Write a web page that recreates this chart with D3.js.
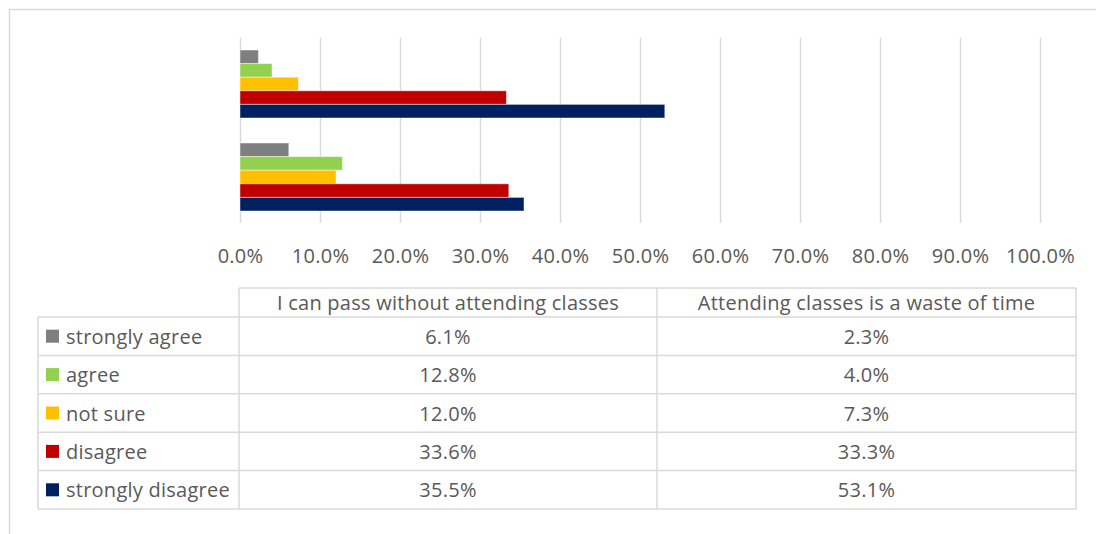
<!DOCTYPE html>
<html>
<head>
<meta charset="utf-8">
<script src="https://cdn.jsdelivr.net/npm/d3@7"></script>
<style>
  html, body { margin: 0; padding: 0; background: #ffffff; }
  svg { display: block; }
  text { font-family: "Open Sans", "Noto Sans", sans-serif; fill: #595959; letter-spacing: 0.25px; }
</style>
</head>
<body>
<svg id="chart" width="1096" height="534"></svg>
<script>
// Survey statements (table column order) and response levels
const statements = ["I can pass without attending classes", "Attending classes is a waste of time"];
const levels = ["strongly agree", "agree", "not sure", "disagree", "strongly disagree"];
const levelColors = ["#7f7f7f", "#92d050", "#ffc000", "#c00000", "#002060"];

// Share of respondents per level, one array per statement
const passWithoutAttending = [0.061, 0.128, 0.120, 0.336, 0.355];
const wasteOfTime = [0.023, 0.040, 0.073, 0.333, 0.531];

// Axis ticks
const xTicks = [0, 0.1, 0.2, 0.3, 0.4, 0.5, 0.6, 0.7, 0.8, 0.9, 1.0];

const seriesByStatement = {
  [statements[0]]: passWithoutAttending,
  [statements[1]]: wasteOfTime
};

const svg = d3.select("#chart");
const gridColor = "#d9d9d9";
const fontSize = "20px";

// Outer frame (open on right / bottom, running past the page edges)
svg.append("rect")
  .attr("x", 9.5).attr("y", 9.5)
  .attr("width", 1200).attr("height", 600)
  .attr("fill", "none")
  .attr("stroke", gridColor)
  .attr("stroke-width", 1.5);

const plot = { left: 240, right: 1040, top: 38, bottom: 223 };

const x = d3.scaleLinear().domain([0, 1]).range([plot.left, plot.right]);

// Categories run bottom-to-top in table order, so the last statement sits on top
const y = d3.scaleBand()
  .domain(statements.slice().reverse())
  .range([plot.top, plot.bottom])
  .paddingInner(0.269)
  .paddingOuter(0.129);

const yInner = d3.scaleBand()
  .domain(levels)
  .range([0, y.bandwidth()]);

// Vertical gridlines
const grid = svg.append("g")
  .attr("transform", `translate(0,${plot.bottom})`)
  .call(d3.axisBottom(x).tickValues(xTicks).tickSize(-(plot.bottom - plot.top)).tickFormat(""));
grid.select(".domain").remove();
grid.selectAll(".tick line").attr("stroke", gridColor).attr("stroke-width", 1.5);

// Bars
const groups = svg.append("g").selectAll("g")
  .data(statements)
  .join("g")
  .attr("transform", d => `translate(0,${y(d)})`);

groups.selectAll("rect")
  .data(d => seriesByStatement[d].map((v, i) => ({ level: levels[i], value: v, color: levelColors[i] })))
  .join("rect")
  .attr("x", x(0))
  .attr("y", d => yInner(d.level))
  .attr("width", d => x(d.value) - x(0))
  .attr("height", yInner.bandwidth())
  .attr("fill", d => d.color)
  .attr("stroke", "#ffffff")
  .attr("stroke-opacity", 0.45)
  .attr("stroke-width", 1);

// Value axis labels
const axis = svg.append("g")
  .attr("transform", `translate(0,${plot.bottom})`)
  .call(d3.axisBottom(x).tickValues(xTicks).tickSize(0).tickPadding(26).tickFormat(d3.format(".1%")));
axis.select(".domain").remove();
axis.selectAll("text")
  .style("font-size", fontSize)
  .style("font-family", null)
  .attr("fill", "#595959");

// Data table beneath the chart
const table = {
  left: 38, keyRight: 239, mid: 657, right: 1076,
  headTop: 288, headBottom: 317, rowH: 38.4
};
const colBounds = [[table.keyRight, table.mid], [table.mid, table.right]];
const tableBottom = table.headBottom + levels.length * table.rowH;

const tg = svg.append("g");
const line = (x1, y1, x2, y2) => tg.append("line")
  .attr("x1", x1).attr("y1", y1).attr("x2", x2).attr("y2", y2)
  .attr("stroke", gridColor).attr("stroke-width", 1.5);

// Header row frame
line(table.keyRight, table.headTop, table.right, table.headTop);
// Row separators
for (let i = 0; i <= levels.length; i++) {
  const yy = table.headBottom + i * table.rowH;
  line(table.left, yy, table.right, yy);
}
// Verticals
line(table.left, table.headBottom, table.left, tableBottom);
line(table.keyRight, table.headTop, table.keyRight, tableBottom);
line(table.mid, table.headTop, table.mid, tableBottom);
line(table.right, table.headTop, table.right, tableBottom);

// Header text
statements.forEach((s, j) => {
  tg.append("text")
    .attr("x", (colBounds[j][0] + colBounds[j][1]) / 2)
    .attr("y", (table.headTop + table.headBottom) / 2)
    .attr("text-anchor", "middle")
    .attr("dominant-baseline", "central")
    .style("font-size", fontSize)
    .text(s);
});

// Body rows: legend key + values
const pct = d3.format(".1%");
levels.forEach((lv, i) => {
  const cy = table.headBottom + (i + 0.5) * table.rowH;
  tg.append("rect")
    .attr("x", 46).attr("y", cy - 6.5)
    .attr("width", 13).attr("height", 13)
    .attr("fill", levelColors[i]);
  tg.append("text")
    .attr("x", 66).attr("y", cy)
    .attr("dominant-baseline", "central")
    .style("font-size", fontSize)
    .text(lv);
  statements.forEach((s, j) => {
    tg.append("text")
      .attr("x", (colBounds[j][0] + colBounds[j][1]) / 2)
      .attr("y", cy)
      .attr("text-anchor", "middle")
      .attr("dominant-baseline", "central")
      .style("font-size", fontSize)
      .text(pct(seriesByStatement[s][i]));
  });
});
</script>
</body>
</html>
